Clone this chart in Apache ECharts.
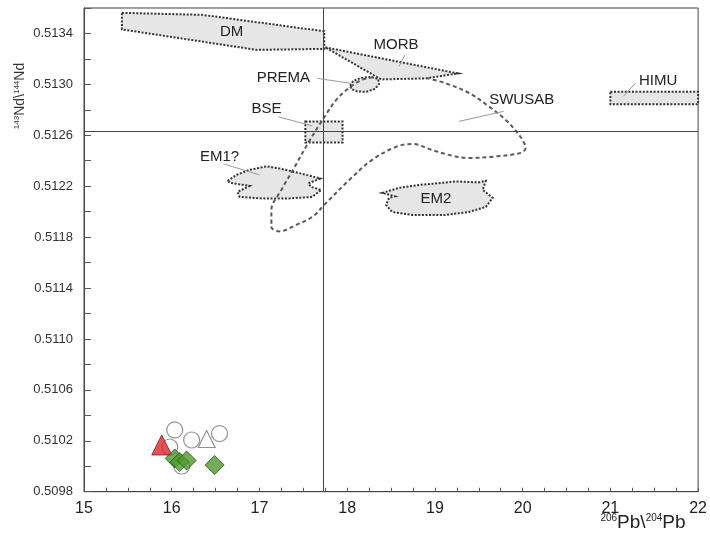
<!DOCTYPE html>
<html>
<head>
<meta charset="utf-8">
<script src="https://cdn.jsdelivr.net/npm/echarts@6/dist/echarts.min.js"></script>
<style>
  html, body { margin: 0; padding: 0; background: #fff; }
  #chart { width: 710px; height: 533px; }
</style>
</head>
<body>
<div id="chart"></div>
<script>
// 206Pb/204Pb vs 143Nd/144Nd with mantle reservoir fields

// Axis ranges
const pbRange = [15, 22];
const ndRange = [0.5098, 0.5136];

// Bulk silicate earth reference lines
const bsePb = 17.73;
const bseNd = 0.512635;

// Reservoir field outlines [206Pb/204Pb, 143Nd/144Nd]
const dmField = [[15.432, 0.513562], [16.352, 0.513546], [17.739, 0.513417], [17.739, 0.513279], [16.966, 0.513271], [15.432, 0.513432]];
const morbField = [[17.750, 0.513291], [19.261, 0.513086], [18.898, 0.513047], [18.386, 0.513039]];
const premaField = [[18.034, 0.512988], [18.068, 0.513027], [18.159, 0.513051], [18.273, 0.513059], [18.352, 0.513043], [18.364, 0.513004], [18.318, 0.512965], [18.216, 0.512941], [18.114, 0.512945], [18.045, 0.512965]];
const bseField = [[17.523, 0.512708], [17.947, 0.512708], [17.947, 0.512543], [17.523, 0.512543]];
const himuField = [[21.0, 0.512943], [22.0, 0.512943], [22.0, 0.512844], [21.0, 0.512844]];
const em1Field = [[16.636, 0.512242], [16.739, 0.512289], [16.886, 0.512328], [17.080, 0.512356], [17.227, 0.512340], [17.375, 0.512316], [17.534, 0.512289], [17.693, 0.512261], [17.557, 0.512222], [17.591, 0.512194], [17.705, 0.512171], [17.602, 0.512116], [17.341, 0.512104], [17.034, 0.512104], [16.773, 0.512116], [16.750, 0.512155], [16.886, 0.512202], [16.670, 0.512226]];
const em2Field = [[18.398, 0.512147], [18.591, 0.512187], [18.818, 0.512210], [19.080, 0.512226], [19.239, 0.512238], [19.500, 0.512230], [19.580, 0.512242], [19.545, 0.512171], [19.659, 0.512108], [19.580, 0.512037], [19.386, 0.511998], [19.125, 0.511974], [18.739, 0.511974], [18.511, 0.511998], [18.443, 0.512053], [18.477, 0.512108], [18.545, 0.512120]];

// SWUSAB trend (open dashed outline)
const swusabTrend = [[18.898, 0.513051], [19.125, 0.513008], [19.386, 0.512933], [19.614, 0.512827], [19.807, 0.512721], [19.932, 0.512627], [20.011, 0.512548], [20.034, 0.512501], [19.977, 0.512462], [19.693, 0.512434], [19.386, 0.512422], [19.159, 0.512446], [18.966, 0.512485], [18.739, 0.512532], [18.557, 0.512509], [18.284, 0.512407], [18.023, 0.512249], [17.761, 0.512069], [17.602, 0.511959], [17.420, 0.511896], [17.227, 0.511845], [17.136, 0.511880], [17.136, 0.512014], [17.250, 0.512171], [17.400, 0.512350], [17.560, 0.512545], [17.700, 0.512700], [17.875, 0.512878], [18.023, 0.512972], [18.170, 0.513036], [18.341, 0.513059]];

// Field labels [text, x, y]
const fieldLabels = [['DM', 16.682, 0.513409], ['MORB', 18.557, 0.513310], ['PREMA', 17.273, 0.513055], ['BSE', 17.080, 0.512811], ['EM1?', 16.545, 0.512430], ['EM2', 19.011, 0.512100], ['SWUSAB', 19.989, 0.512878], ['HIMU', 21.545, 0.513024]];

// Leader lines [x1, y1, x2, y2]
const leaders = [[18.659, 0.513232, 18.591, 0.513141], [17.659, 0.513047, 18.045, 0.513008], [17.216, 0.512745, 17.602, 0.512674], [16.591, 0.512375, 17.0, 0.512289], [19.784, 0.512788, 19.273, 0.512709], [21.284, 0.513008, 21.148, 0.512906]];

// Samples
const openCircles = [[16.034, 0.510285], [16.227, 0.510206], [16.545, 0.510257], [15.977, 0.510151], [16.114, 0.510002]];
const openTriangles = [[16.398, 0.510214]];
const redTriangles = [[15.886, 0.510167]];
const greenDiamonds = [[16.034, 0.510061], [16.091, 0.510033], [16.170, 0.510045], [16.489, 0.510010]];

const fields = [dmField, morbField, premaField, bseField, himuField, em1Field, em2Field];

const FONT = '"Liberation Sans", Arial, sans-serif';

const chart = echarts.init(document.getElementById('chart'), null, { renderer: 'canvas' });

chart.setOption({
  animation: false,
  backgroundColor: '#fff',
  grid: { left: 84, right: 8, top: 8, bottom: 41.3, show: true, borderColor: '#444', borderWidth: 1 },
  xAxis: {
    type: 'value', min: pbRange[0], max: pbRange[1], interval: 1,
    axisLine: { lineStyle: { color: '#444', width: 1 } },
    axisTick: { inside: true, length: 4, lineStyle: { color: '#555' } },
    minorTick: { show: true, splitNumber: 4, length: 4, lineStyle: { color: '#555' } },
    splitLine: { show: false },
    axisLabel: { color: '#222', fontSize: 16, fontFamily: FONT, margin: 9 }
  },
  yAxis: {
    type: 'value', min: ndRange[0], max: ndRange[1], interval: 0.0004,
    axisLine: { lineStyle: { color: '#444', width: 1 } },
    axisTick: { inside: true, length: 7, lineStyle: { color: '#555' } },
    minorTick: { show: true, splitNumber: 2, length: 7, lineStyle: { color: '#555' } },
    splitLine: { show: false },
    axisLabel: { color: '#333', fontSize: 13, fontFamily: FONT, margin: 11, showMaxLabel: false,
      formatter: v => v.toFixed(4) }
  },
  graphic: [
    {
      type: 'text', x: 20, y: 96, rotation: Math.PI / 2,
      style: {
        text: '{s|143}{n|Nd\\}{s|144}{n|Nd}',
        align: 'center', verticalAlign: 'middle', fill: '#333',
        rich: {
          s: { fontSize: 8, fontFamily: FONT, fill: '#333', verticalAlign: 'top', lineHeight: 15 },
          n: { fontSize: 14, fontFamily: FONT, fill: '#333', lineHeight: 15 }
        }
      }
    },
    {
      type: 'text', x: 643, y: 523,
      style: {
        text: '{s|206}{n|Pb\\}{s|204}{n|Pb}',
        align: 'center', verticalAlign: 'middle', fill: '#222',
        rich: {
          s: { fontSize: 10, fontFamily: FONT, fill: '#222', verticalAlign: 'top', lineHeight: 20 },
          n: { fontSize: 19, fontFamily: FONT, fill: '#222', lineHeight: 20 }
        }
      }
    }
  ],
  series: [
    {
      type: 'custom', name: 'fields', z: 2, clip: false, silent: true,
      data: fields.map(f => f[0]),
      encode: { x: 0, y: 1 },
      renderItem: (params, api) => ({
        type: 'polygon',
        shape: { points: fields[params.dataIndex].map(p => api.coord(p)) },
        style: { fill: '#e6e6e6', stroke: '#333', lineWidth: 2, lineDash: [2, 1.6] }
      }),
      markLine: {
        silent: true, symbol: 'none', label: { show: false }, precision: 6,
        lineStyle: { color: '#444', width: 1, type: 'solid' },
        data: [{ xAxis: bsePb }, { yAxis: bseNd }]
      }
    },
    {
      type: 'line', name: 'SWUSAB', z: 4, data: swusabTrend, smooth: 0.35,
      symbol: 'none', silent: true,
      lineStyle: { color: '#5a5a5a', width: 2, type: [4, 3] }
    },
    {
      type: 'custom', name: 'leaders', z: 5, clip: false, silent: true,
      data: leaders, encode: { x: 0, y: 1 },
      renderItem: (params, api) => {
        const a = api.coord([api.value(0), api.value(1)]);
        const b = api.coord([api.value(2), api.value(3)]);
        return { type: 'line', shape: { x1: a[0], y1: a[1], x2: b[0], y2: b[1] },
          style: { stroke: '#9a9a9a', lineWidth: 1 } };
      }
    },
    {
      type: 'custom', name: 'labels', z: 6, clip: false, silent: true,
      data: fieldLabels.map(l => [l[1], l[2]]), encode: { x: 0, y: 1 },
      renderItem: (params, api) => {
        const p = api.coord([api.value(0), api.value(1)]);
        return { type: 'text', x: p[0], y: p[1],
          style: { text: fieldLabels[params.dataIndex][0], fontSize: 15, fontFamily: FONT,
            fill: '#222', align: 'center', verticalAlign: 'middle' } };
      }
    },
    {
      type: 'scatter', name: 'open circles', z: 7, data: openCircles, symbol: 'circle', symbolSize: 16,
      itemStyle: { color: '#fff', borderColor: '#777', borderWidth: 1.2 }
    },
    {
      type: 'scatter', name: 'open triangles', z: 8, data: openTriangles, symbol: 'triangle', symbolSize: 17,
      itemStyle: { color: '#fff', borderColor: '#777', borderWidth: 1.2 }
    },
    {
      type: 'scatter', name: 'red triangles', z: 9, data: redTriangles, symbol: 'triangle', symbolSize: 20,
      itemStyle: { color: '#e0262b', borderColor: '#8b1a1a', borderWidth: 1 }
    },
    {
      type: 'scatter', name: 'green diamonds', z: 10, data: greenDiamonds, symbol: 'diamond', symbolSize: 19,
      itemStyle: { color: '#4f9a2e', borderColor: '#2a4d17', borderWidth: 1 }
    }
  ]
});
</script>
</body>
</html>
